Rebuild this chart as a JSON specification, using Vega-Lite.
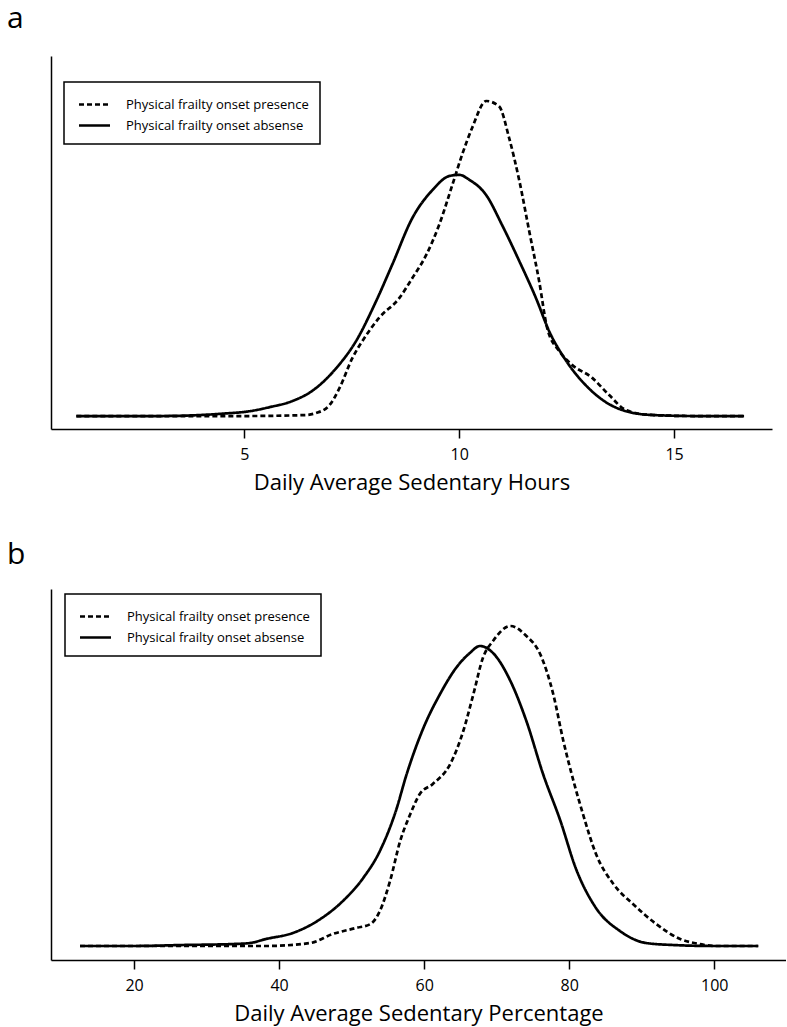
{
  "$schema": "https://vega.github.io/schema/vega-lite/v6.json",
  "padding": {"left": 7, "top": 4, "right": 0, "bottom": 4},
  "background": "white",
  "datasets": {
    "hours": [
      {"x": 1.09, "y": 0, "g": "Physical frailty onset absense"},
      {"x": 2.0, "y": 0, "g": "Physical frailty onset absense"},
      {"x": 3.0, "y": 0, "g": "Physical frailty onset absense"},
      {"x": 3.95, "y": 0.0008, "g": "Physical frailty onset absense"},
      {"x": 4.5, "y": 0.002, "g": "Physical frailty onset absense"},
      {"x": 5.12, "y": 0.004, "g": "Physical frailty onset absense"},
      {"x": 5.6, "y": 0.0075, "g": "Physical frailty onset absense"},
      {"x": 6.12, "y": 0.0125, "g": "Physical frailty onset absense"},
      {"x": 6.58, "y": 0.021, "g": "Physical frailty onset absense"},
      {"x": 7.14, "y": 0.04, "g": "Physical frailty onset absense"},
      {"x": 7.6, "y": 0.0625, "g": "Physical frailty onset absense"},
      {"x": 8.07, "y": 0.096, "g": "Physical frailty onset absense"},
      {"x": 8.44, "y": 0.126, "g": "Physical frailty onset absense"},
      {"x": 8.91, "y": 0.165, "g": "Physical frailty onset absense"},
      {"x": 9.37, "y": 0.188, "g": "Physical frailty onset absense"},
      {"x": 9.77, "y": 0.2, "g": "Physical frailty onset absense"},
      {"x": 10.0, "y": 0.201, "g": "Physical frailty onset absense"},
      {"x": 10.23, "y": 0.197, "g": "Physical frailty onset absense"},
      {"x": 10.63, "y": 0.184, "g": "Physical frailty onset absense"},
      {"x": 11.0, "y": 0.159, "g": "Physical frailty onset absense"},
      {"x": 11.4, "y": 0.129, "g": "Physical frailty onset absense"},
      {"x": 11.79, "y": 0.098, "g": "Physical frailty onset absense"},
      {"x": 12.09, "y": 0.071, "g": "Physical frailty onset absense"},
      {"x": 12.49, "y": 0.046, "g": "Physical frailty onset absense"},
      {"x": 13.02, "y": 0.023, "g": "Physical frailty onset absense"},
      {"x": 13.65, "y": 0.007, "g": "Physical frailty onset absense"},
      {"x": 14.42, "y": 0.001, "g": "Physical frailty onset absense"},
      {"x": 15.5, "y": 0, "g": "Physical frailty onset absense"},
      {"x": 16.63, "y": 0, "g": "Physical frailty onset absense"},
      {"x": 1.09, "y": 0, "g": "Physical frailty onset presence"},
      {"x": 3.0, "y": 0, "g": "Physical frailty onset presence"},
      {"x": 5.0, "y": 0, "g": "Physical frailty onset presence"},
      {"x": 6.4, "y": 0.0008, "g": "Physical frailty onset presence"},
      {"x": 6.67, "y": 0.0025, "g": "Physical frailty onset presence"},
      {"x": 6.98, "y": 0.009, "g": "Physical frailty onset presence"},
      {"x": 7.21, "y": 0.023, "g": "Physical frailty onset presence"},
      {"x": 7.51, "y": 0.048, "g": "Physical frailty onset presence"},
      {"x": 7.84, "y": 0.0675, "g": "Physical frailty onset presence"},
      {"x": 8.14, "y": 0.082, "g": "Physical frailty onset presence"},
      {"x": 8.6, "y": 0.098, "g": "Physical frailty onset presence"},
      {"x": 8.91, "y": 0.115, "g": "Physical frailty onset presence"},
      {"x": 9.23, "y": 0.134, "g": "Physical frailty onset presence"},
      {"x": 9.53, "y": 0.159, "g": "Physical frailty onset presence"},
      {"x": 9.84, "y": 0.1925, "g": "Physical frailty onset presence"},
      {"x": 10.07, "y": 0.218, "g": "Physical frailty onset presence"},
      {"x": 10.3, "y": 0.24, "g": "Physical frailty onset presence"},
      {"x": 10.63, "y": 0.2625, "g": "Physical frailty onset presence"},
      {"x": 10.93, "y": 0.258, "g": "Physical frailty onset presence"},
      {"x": 11.16, "y": 0.232, "g": "Physical frailty onset presence"},
      {"x": 11.4, "y": 0.196, "g": "Physical frailty onset presence"},
      {"x": 11.63, "y": 0.154, "g": "Physical frailty onset presence"},
      {"x": 11.86, "y": 0.1125, "g": "Physical frailty onset presence"},
      {"x": 12.05, "y": 0.073, "g": "Physical frailty onset presence"},
      {"x": 12.33, "y": 0.054, "g": "Physical frailty onset presence"},
      {"x": 12.63, "y": 0.0425, "g": "Physical frailty onset presence"},
      {"x": 13.09, "y": 0.032, "g": "Physical frailty onset presence"},
      {"x": 13.49, "y": 0.0175, "g": "Physical frailty onset presence"},
      {"x": 13.88, "y": 0.005, "g": "Physical frailty onset presence"},
      {"x": 14.42, "y": 0.001, "g": "Physical frailty onset presence"},
      {"x": 15.5, "y": 0, "g": "Physical frailty onset presence"},
      {"x": 16.63, "y": 0, "g": "Physical frailty onset presence"}
    ],
    "percent": [
      {"x": 12.55, "y": 0, "g": "Physical frailty onset absense"},
      {"x": 20, "y": 0, "g": "Physical frailty onset absense"},
      {"x": 26.8, "y": 0.0001, "g": "Physical frailty onset absense"},
      {"x": 33.7, "y": 0.0002, "g": "Physical frailty onset absense"},
      {"x": 36.0, "y": 0.0003, "g": "Physical frailty onset absense"},
      {"x": 38.2, "y": 0.0007, "g": "Physical frailty onset absense"},
      {"x": 41.9, "y": 0.0013, "g": "Physical frailty onset absense"},
      {"x": 45.7, "y": 0.0027, "g": "Physical frailty onset absense"},
      {"x": 48.8, "y": 0.0045, "g": "Physical frailty onset absense"},
      {"x": 51.6, "y": 0.0068, "g": "Physical frailty onset absense"},
      {"x": 53.9, "y": 0.0095, "g": "Physical frailty onset absense"},
      {"x": 56.1, "y": 0.0135, "g": "Physical frailty onset absense"},
      {"x": 57.6, "y": 0.0172, "g": "Physical frailty onset absense"},
      {"x": 59.9, "y": 0.0218, "g": "Physical frailty onset absense"},
      {"x": 62.2, "y": 0.0252, "g": "Physical frailty onset absense"},
      {"x": 64.4, "y": 0.0278, "g": "Physical frailty onset absense"},
      {"x": 66.3, "y": 0.0293, "g": "Physical frailty onset absense"},
      {"x": 67.7, "y": 0.03, "g": "Physical frailty onset absense"},
      {"x": 69.5, "y": 0.0293, "g": "Physical frailty onset absense"},
      {"x": 71.9, "y": 0.0265, "g": "Physical frailty onset absense"},
      {"x": 74.1, "y": 0.0225, "g": "Physical frailty onset absense"},
      {"x": 76.4, "y": 0.0172, "g": "Physical frailty onset absense"},
      {"x": 78.8, "y": 0.0125, "g": "Physical frailty onset absense"},
      {"x": 80.9, "y": 0.0078, "g": "Physical frailty onset absense"},
      {"x": 83.7, "y": 0.0038, "g": "Physical frailty onset absense"},
      {"x": 87.0, "y": 0.0015, "g": "Physical frailty onset absense"},
      {"x": 90.6, "y": 0.0003, "g": "Physical frailty onset absense"},
      {"x": 94.3, "y": 0.0001, "g": "Physical frailty onset absense"},
      {"x": 100, "y": 0, "g": "Physical frailty onset absense"},
      {"x": 106.07, "y": 0, "g": "Physical frailty onset absense"},
      {"x": 12.55, "y": 0, "g": "Physical frailty onset presence"},
      {"x": 30, "y": 0, "g": "Physical frailty onset presence"},
      {"x": 38.2, "y": 0, "g": "Physical frailty onset presence"},
      {"x": 44.3, "y": 0.0003, "g": "Physical frailty onset presence"},
      {"x": 47.4, "y": 0.0012, "g": "Physical frailty onset presence"},
      {"x": 50.6, "y": 0.0018, "g": "Physical frailty onset presence"},
      {"x": 52.6, "y": 0.0022, "g": "Physical frailty onset presence"},
      {"x": 53.9, "y": 0.0035, "g": "Physical frailty onset presence"},
      {"x": 55.3, "y": 0.0065, "g": "Physical frailty onset presence"},
      {"x": 56.7, "y": 0.0105, "g": "Physical frailty onset presence"},
      {"x": 58.1, "y": 0.0132, "g": "Physical frailty onset presence"},
      {"x": 59.4, "y": 0.0152, "g": "Physical frailty onset presence"},
      {"x": 61.2, "y": 0.0162, "g": "Physical frailty onset presence"},
      {"x": 63.6, "y": 0.0182, "g": "Physical frailty onset presence"},
      {"x": 65.4, "y": 0.0215, "g": "Physical frailty onset presence"},
      {"x": 66.8, "y": 0.0252, "g": "Physical frailty onset presence"},
      {"x": 68.1, "y": 0.0288, "g": "Physical frailty onset presence"},
      {"x": 69.5, "y": 0.0305, "g": "Physical frailty onset presence"},
      {"x": 71.9, "y": 0.032, "g": "Physical frailty onset presence"},
      {"x": 74.1, "y": 0.031, "g": "Physical frailty onset presence"},
      {"x": 76.0, "y": 0.0292, "g": "Physical frailty onset presence"},
      {"x": 77.8, "y": 0.0252, "g": "Physical frailty onset presence"},
      {"x": 79.2, "y": 0.0205, "g": "Physical frailty onset presence"},
      {"x": 80.6, "y": 0.0165, "g": "Physical frailty onset presence"},
      {"x": 81.9, "y": 0.0132, "g": "Physical frailty onset presence"},
      {"x": 83.7, "y": 0.0092, "g": "Physical frailty onset presence"},
      {"x": 86.1, "y": 0.0062, "g": "Physical frailty onset presence"},
      {"x": 88.8, "y": 0.0042, "g": "Physical frailty onset presence"},
      {"x": 92.0, "y": 0.0022, "g": "Physical frailty onset presence"},
      {"x": 95.3, "y": 0.0007, "g": "Physical frailty onset presence"},
      {"x": 98.0, "y": 0.0002, "g": "Physical frailty onset presence"},
      {"x": 100, "y": 0, "g": "Physical frailty onset presence"},
      {"x": 106.07, "y": 0, "g": "Physical frailty onset presence"}
    ]
  },
  "spacing": 47,
  "vconcat": [
    {
      "title": {"text": "a", "anchor": "start", "frame": "group", "dx": -44, "offset": 22},
      "width": 721,
      "height": 373,
      "data": {"name": "hours"},
      "mark": {"type": "line", "interpolate": "monotone", "color": "black", "strokeWidth": 2.7},
      "encoding": {
        "x": {"field": "x", "type": "quantitative", "scale": {"domain": [0.5, 17.28], "nice": false, "zero": false},
              "axis": {"values": [5, 10, 15], "title": "Daily Average Sedentary Hours"}},
        "y": {"field": "y", "type": "quantitative", "scale": {"domain": [-0.0108, 0.3], "nice": false, "zero": false},
              "axis": {"ticks": false, "labels": false, "title": null, "grid": false}},
        "strokeDash": {"field": "g", "type": "nominal",
          "scale": {"domain": ["Physical frailty onset presence", "Physical frailty onset absense"], "range": [[5, 3], [1, 0]]},
          "legend": {"title": null, "orient": "none", "legendX": 13, "legendY": 26}},
        "order": {"field": "x", "type": "quantitative"}
      }
    },
    {
      "title": {"text": "b", "anchor": "start", "frame": "group", "dx": -44, "offset": 19},
      "width": 735,
      "height": 371,
      "data": {"name": "percent"},
      "mark": {"type": "line", "interpolate": "monotone", "color": "black", "strokeWidth": 2.7},
      "encoding": {
        "x": {"field": "x", "type": "quantitative", "scale": {"domain": [8.55, 109.9], "nice": false, "zero": false},
              "axis": {"values": [20, 40, 60, 80, 100], "title": "Daily Average Sedentary Percentage"}},
        "y": {"field": "y", "type": "quantitative", "scale": {"domain": [-0.0014, 0.0357], "nice": false, "zero": false},
              "axis": {"ticks": false, "labels": false, "title": null, "grid": false}},
        "strokeDash": {"field": "g", "type": "nominal",
          "scale": {"domain": ["Physical frailty onset presence", "Physical frailty onset absense"], "range": [[5, 3], [1, 0]]},
          "legend": {"title": null, "orient": "none", "legendX": 14, "legendY": 5}},
        "order": {"field": "x", "type": "quantitative"}
      }
    }
  ],
  "resolve": {"scale": {"strokeDash": "independent", "x": "independent", "y": "independent"}, "legend": {"strokeDash": "independent"}},
  "config": {
    "font": "Open Sans",
    "view": {"stroke": null},
    "title": {"font": "Open Sans", "fontSize": 30, "fontWeight": "normal", "color": "black"},
    "axis": {
      "domainColor": "black", "domainWidth": 1.5, "tickColor": "black", "tickWidth": 1.5, "tickSize": 9,
      "labelFont": "Open Sans", "labelFontSize": 16, "labelColor": "black", "labelPadding": 8,
      "titleFont": "Open Sans", "titleFontSize": 22, "titleFontWeight": "normal", "titleColor": "black", "titlePadding": 10,
      "grid": false
    },
    "legend": {
      "strokeColor": "black", "strokeWidth": 1.5, "padding": 11, "fillColor": "white",
      "symbolType": "M-1.55,0H1.55", "symbolSize": 400, "symbolStrokeWidth": 2.7, "symbolStrokeColor": "black", "symbolFillColor": "transparent", "symbolOffset": 8,
      "labelFont": "Open Sans", "labelFontSize": 13, "labelColor": "black", "labelOffset": 20, "rowPadding": 2,
      "labelLimit": 400
    }
  }
}
